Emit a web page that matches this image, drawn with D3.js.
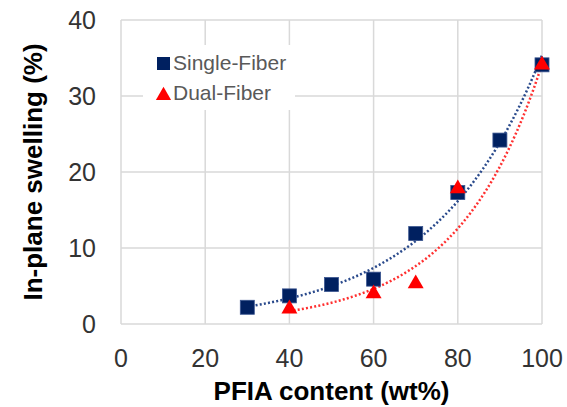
<!DOCTYPE html>
<html>
<head>
<meta charset="utf-8">
<script src="https://cdn.jsdelivr.net/npm/d3@7"></script>
<style>
  body { margin: 0; background: #fff; }
  svg { font-family: "Liberation Sans", Arial, sans-serif; }
</style>
</head>
<body>
<div></div>
<script>
var w = 567;
var h = 407;

// data
var singleX = [30, 40, 50, 60, 70, 80, 90, 100];
var singleY = [2.2, 3.7, 5.2, 5.9, 11.9, 17.3, 24.2, 34.1];
var dualX = [40, 60, 70, 80, 100];
var dualY = [2.0, 4.0, 5.3, 17.8, 34.1];
var xTicks = [0, 20, 40, 60, 80, 100];
var yTicks = [0, 10, 20, 30, 40];
var seriesNames = ["Single-Fiber", "Dual-Fiber"];

var navy = "#002060";
var red = "#ff0000";

var svg = d3.select("div").append("svg")
	.attr("width", w)
	.attr("height", h);

var x = d3.scaleLinear().domain([0, 100]).range([121, 542]);
var y = d3.scaleLinear().domain([0, 40]).range([324, 20]);

//gridlines
svg.append("g").selectAll("line.v")
	.data(xTicks).enter().append("line")
	.attr("x1", function(d) { return x(d); })
	.attr("x2", function(d) { return x(d); })
	.attr("y1", y(0)).attr("y2", y(40))
	.attr("stroke", "#d9d9d9").attr("stroke-width", 1.5);

svg.append("g").selectAll("line.h")
	.data(yTicks).enter().append("line")
	.attr("y1", function(d) { return y(d); })
	.attr("y2", function(d) { return y(d); })
	.attr("x1", x(0)).attr("x2", x(100))
	.attr("stroke", "#d9d9d9").attr("stroke-width", 1.5);

//tick labels
svg.append("g").selectAll("text")
	.data(yTicks).enter().append("text")
	.attr("x", 96)
	.attr("y", function(d) { return y(d); })
	.attr("dy", "0.36em")
	.attr("text-anchor", "end")
	.attr("font-size", 25)
	.attr("fill", "#333")
	.text(function(d) { return d; });

svg.append("g").selectAll("text")
	.data(xTicks).enter().append("text")
	.attr("x", function(d) { return x(d); })
	.attr("y", 367)
	.attr("text-anchor", "middle")
	.attr("font-size", 25)
	.attr("fill", "#333")
	.text(function(d) { return d; });

//axis titles
svg.append("text")
	.attr("x", (x(0) + x(100)) / 2)
	.attr("y", 400)
	.attr("text-anchor", "middle")
	.attr("font-size", 26)
	.attr("font-weight", "bold")
	.text("PFIA content (wt%)");

svg.append("text")
	.attr("transform", "translate(42," + ((y(0) + y(40)) / 2) + ") rotate(-90)")
	.attr("text-anchor", "middle")
	.attr("font-size", 26)
	.attr("font-weight", "bold")
	.text("In-plane swelling (%)");

//legend background covers the grid
svg.append("rect")
	.attr("x", 143).attr("y", 45)
	.attr("width", 152).attr("height", 65)
	.attr("fill", "#fff");

// exponential trendline, least squares on ln(y)
function expFit(xs, ys) {
	var ly = ys.map(function(v) { return Math.log(v); });
	var mx = d3.mean(xs), my = d3.mean(ly);
	var sxy = d3.sum(xs, function(v, i) { return (v - mx) * (ly[i] - my); });
	var sxx = d3.sum(xs, function(v) { return (v - mx) * (v - mx); });
	var b = sxy / sxx;
	var a = Math.exp(my - b * mx);
	return function(t) { return a * Math.exp(b * t); };
}

function drawTrend(xs, ys, color) {
	var f = expFit(xs, ys);
	var pts = d3.range(xs[0], xs[xs.length - 1] + 0.5, 1);
	var line = d3.line()
		.x(function(d) { return x(d); })
		.y(function(d) { return y(f(d)); });
	svg.append("path")
		.datum(pts)
		.attr("d", line)
		.attr("fill", "none")
		.attr("stroke", color)
		.attr("stroke-width", 2.5)
		.attr("stroke-dasharray", "2 2.2");
}

drawTrend(singleX, singleY, "#2a4a8c");
drawTrend(dualX, dualY, "#ff3030");

//markers
var sq = 14;
svg.append("g").selectAll("rect")
	.data(singleX).enter().append("rect")
	.attr("x", function(d) { return x(d) - sq / 2; })
	.attr("y", function(d, i) { return y(singleY[i]) - sq / 2; })
	.attr("width", sq).attr("height", sq)
	.attr("fill", navy)
	.attr("stroke", "#3a5590").attr("stroke-width", 0.8);

var tri = d3.symbol().type(d3.symbolTriangle).size(110);
svg.append("g").selectAll("path")
	.data(dualX).enter().append("path")
	.attr("transform", function(d, i) { return "translate(" + x(d) + "," + y(dualY[i]) + ")"; })
	.attr("d", tri)
	.attr("fill", red);

//legend
svg.append("rect")
	.attr("x", 157).attr("y", 57)
	.attr("width", 13).attr("height", 13)
	.attr("fill", navy);
svg.append("path")
	.attr("transform", "translate(163.5,95.5)")
	.attr("d", d3.symbol().type(d3.symbolTriangle).size(100))
	.attr("fill", red);

svg.append("g").selectAll("text")
	.data(seriesNames).enter().append("text")
	.attr("x", 173)
	.attr("y", function(d, i) { return 70 + i * 30; })
	.attr("font-size", 21)
	.attr("fill", "#595959")
	.text(function(d) { return d; });
</script>
</body>
</html>
